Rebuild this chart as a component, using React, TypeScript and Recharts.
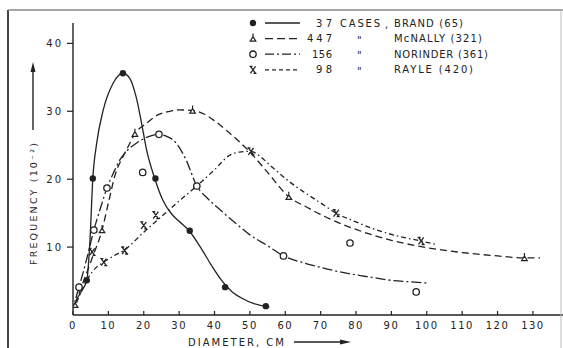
import { ComposedChart, Line, Scatter, XAxis, YAxis } from 'recharts'

// diameter (cm), frequency (10^-2)
const brandCurve = [
  [1, 2.3], [2.5, 3.6], [3.9, 5.1], [4.8, 11], [5.6, 20.1], [6.7, 25.3], [8.5, 30.1], [11.3, 34.1],
  [14.1, 35.6], [16, 34.9], [17.9, 32], [19.4, 28.2], [20.8, 24.3], [23.1, 20.1], [25.4, 16.9],
  [28, 14.8], [30, 13.8], [33, 12.3], [36, 10], [39.5, 7], [42, 5.1], [45, 3.4], [48, 2.4],
  [51, 1.7], [55.5, 1.2],
]
const brandMarks = [[3.9, 5.1], [5.6, 20.1], [14.1, 35.6], [23.3, 20.1], [33, 12.4], [43, 4.1], [54.5, 1.3]]

const mcnallyCurve = [
  [0.6, 1.6], [3, 5], [5.5, 8.5], [8.2, 12.5], [10, 16.5], [12, 20.8], [14, 23.2], [15.5, 24.7],
  [17.5, 26.7], [20.7, 28.2], [23.7, 29.4], [27.3, 30], [30, 30.2], [33.8, 30.1], [37, 29.6],
  [40, 28.6], [44, 26.9], [50, 24], [55, 21], [61, 17.4], [66, 15.9], [70, 14.8], [75, 13.6],
  [80, 12.6], [90, 11], [98, 10.1], [110, 9.2], [120, 8.7], [128, 8.4], [132, 8.4],
]
const mcnallyMarks = [[0.6, 1.5], [8.2, 12.5], [17.5, 26.7], [33.8, 30.1], [61, 17.4], [127.6, 8.4]]

const norinderCurve = [
  [0.8, 2.5], [1.7, 4.1], [4, 8.5], [5.9, 12.5], [7.8, 15.8], [9.6, 18.7], [11.5, 21], [13.2, 22.8],
  [15.5, 24.3], [17.9, 25.3], [21, 26.2], [24.3, 26.6], [26.5, 26.3], [29.2, 25.3], [32, 22.8],
  [35, 19], [38, 17.2], [42, 15.3], [46, 13.5], [50, 11.8], [55, 10.2], [59.5, 8.7], [65, 7.7],
  [70, 7], [75, 6.4], [80, 5.9], [85, 5.5], [90, 5.1], [95, 4.9], [100.6, 4.7],
]
const norinderMarks = [[1.7, 4.1], [5.9, 12.5], [9.6, 18.7], [19.7, 21], [24.3, 26.6], [35, 19], [59.5, 8.7], [78.3, 10.6], [97, 3.4]]

const rayleCurve = [
  [1, 1.8], [3, 4.2], [5.5, 6.4], [8.7, 7.8], [11.5, 8.7], [14.6, 9.6], [20, 12.2], [25, 14.5],
  [30, 16.8], [35, 19], [40, 21.4], [44.2, 23.5], [47, 24], [50.3, 24.1], [53, 23.3], [56, 21.9],
  [61, 19.7], [65, 18.2], [70, 16.5], [74.4, 15], [80, 13.7], [86, 12.5], [92, 11.6], [98.4, 10.9],
  [102.5, 10.4],
]
const rayleMarks = [[5.4, 9.3], [8.7, 7.8], [14.6, 9.5], [20, 13.2], [23.4, 14.7], [50.3, 24.1], [74.4, 15], [98.4, 10.9]]

const xTicks = [0, 10, 20, 30, 40, 50, 60, 70, 80, 90, 100, 110, 120, 130]
const yTicks = [10, 20, 30, 40]

const toPts = (a: number[][]) => a.map(([x, y]) => ({ x, y }))

const INK = '#222'
const FONT = '"DejaVu Sans", sans-serif'

const Dot = ({ cx, cy }: any) => <circle cx={cx} cy={cy} r={3.2} fill={INK} />
const Ring = ({ cx, cy }: any) => <circle cx={cx} cy={cy} r={3.2} fill="#fff" stroke={INK} strokeWidth={1.3} />
const Tri = ({ cx, cy }: any) => (
  <path d={`M${cx - 2.8},${cy + 2.6}L${cx + 2.8},${cy + 2.6}L${cx},${cy - 2}Z M${cx},${cy - 2}V${cy - 5}`}
    fill="#fff" stroke={INK} strokeWidth={1.2} />
)
const Chi = ({ cx, cy }: any) => (
  <path d={`M${cx - 2.6},${cy - 3.5}L${cx + 2.6},${cy + 3.5}M${cx + 2.6},${cy - 3.5}L${cx - 2.6},${cy + 3.5}M${cx - 3.5},${cy - 3.5}h3M${cx + 0.5},${cy + 3.5}h3`}
    fill="none" stroke={INK} strokeWidth={1.3} />
)

const series = [
  { curve: brandCurve, marks: brandMarks, dash: undefined, Mark: Dot, n: '37', name: 'BRAND (65)', w: 69 },
  { curve: mcnallyCurve, marks: mcnallyMarks, dash: '7 4', Mark: Tri, n: '447', name: 'McNALLY (321)', w: 88 },
  { curve: norinderCurve, marks: norinderMarks, dash: '10 3 2 3', Mark: Ring, n: '156', name: 'NORINDER (361)', w: 94 },
  { curve: rayleCurve, marks: rayleMarks, dash: '5 3 1.5 3', Mark: Chi, n: '98', name: 'RAYLE (420)', w: 79 },
]
const legendDash = [undefined, '8 4', '9 3 2 3', '4 3']
const legendNumW = [16, 25, 20, 16]

export default function App() {
  return (
    <div style={{ position: 'absolute', left: 0, top: 0, width: 563, height: 348, background: '#fff' }}>
      <ComposedChart width={563} height={348} margin={{ top: 23, right: 0, left: 0, bottom: 0 }}>
        <XAxis
          dataKey="x" type="number" domain={[0, 138.5]} ticks={xTicks} allowDataOverflow
          height={33} tickSize={-4} tickMargin={11}
          axisLine={{ stroke: INK, strokeWidth: 1.4 }} tickLine={{ stroke: INK, strokeWidth: 1.2 }}
          tick={{ fontSize: 10, fill: INK, fontFamily: FONT, letterSpacing: 1.5 } as any}
        />
        <YAxis
          dataKey="y" type="number" domain={[0, 43]} ticks={yTicks} allowDataOverflow
          width={73} tickSize={6} tickMargin={4}
          axisLine={{ stroke: INK, strokeWidth: 1.4 }} tickLine={{ stroke: INK, strokeWidth: 1.2 }}
          tick={{ fontSize: 10, fill: INK, fontFamily: FONT, letterSpacing: 2 } as any}
        />
        {series.map((s, i) => (
          <Line key={'l' + i} data={toPts(s.curve)} dataKey="y" type="monotone" stroke={INK}
            strokeWidth={1.3} strokeDasharray={s.dash} dot={false} activeDot={false}
            isAnimationActive={false} />
        ))}
        {series.map((s, i) => (
          <Scatter key={'s' + i} data={toPts(s.marks)} dataKey="y" isAnimationActive={false}
            shape={(p: any) => <s.Mark cx={p.cx} cy={p.cy} />} />
        ))}
      </ComposedChart>
      <svg width={563} height={348} style={{ position: 'absolute', left: 0, top: 0, pointerEvents: 'none' }}>
        <line x1={8} y1={10} x2={8} y2={348} stroke="#444" strokeWidth={2} />
        <line x1={8} y1={10} x2={563} y2={10} stroke="#888" strokeWidth={1.5} />
        <line x1={561} y1={10} x2={561} y2={348} stroke="#bbb" strokeWidth={1} />

        {series.map((s, i) => {
          const y = 23 + i * 15.6
          return (
            <g key={i} fontFamily={FONT} fontSize={10} fill={INK}>
              <s.Mark cx={253} cy={y} />
              <line x1={265} y1={y} x2={300} y2={y} stroke={INK} strokeWidth={1.3} strokeDasharray={legendDash[i]} />
              <text x={332 - legendNumW[i]} y={y + 3.6} textLength={legendNumW[i]} lengthAdjust="spacing">{s.n}</text>
              {i === 0 ? (
                <>
                  <text x={340} y={y + 3.6} textLength={40} lengthAdjust="spacing">CASES</text>
                  <text x={385} y={y + 5}>,</text>
                </>
              ) : (
                <text x={357} y={y + 5}>"</text>
              )}
              <text x={394} y={y + 3.6} textLength={s.w} lengthAdjust="spacing">{s.name}</text>
            </g>
          )
        })}

        <text x={0} y={0} transform="translate(37,204) rotate(-90)" textAnchor="middle"
          fontFamily={FONT} fontSize={9.5} fill={INK} textLength={122} lengthAdjust="spacing">
          FREQUENCY (10⁻²)
        </text>
        <line x1={33} y1={130} x2={33} y2={70} stroke={INK} strokeWidth={1.4} />
        <path d="M30.5,72 L33,62 L35.5,72 Z" fill={INK} />

        <text x={188} y={346} fontFamily={FONT} fontSize={10} fill={INK} textLength={96} lengthAdjust="spacing">
          DIAMETER, CM
        </text>
        <line x1={294} y1={342} x2={342} y2={342} stroke={INK} strokeWidth={1.4} />
        <path d="M340,339.5 L351,342 L340,344.5 Z" fill={INK} />
      </svg>
    </div>
  )
}
